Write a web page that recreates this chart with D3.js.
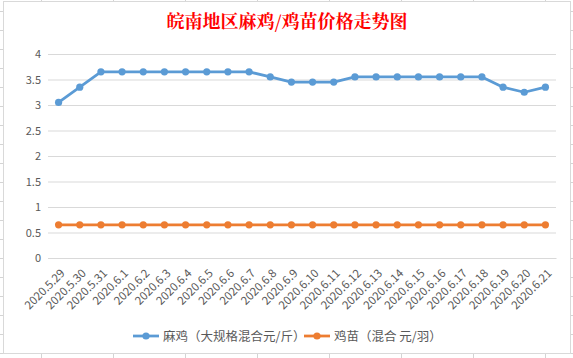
<!DOCTYPE html>
<html>
<head>
<meta charset="utf-8">
<script src="https://cdn.jsdelivr.net/npm/d3@7"></script>
<style>
  body { margin: 0; background: #fff; }
  text { font-family: "Microsoft YaHei", "Noto Sans CJK SC", "DejaVu Sans", sans-serif; }
</style>
</head>
<body>
<div id="chart"></div>
<script>
var dates = ["2020.5.29","2020.5.30","2020.5.31","2020.6.1","2020.6.2","2020.6.3","2020.6.4","2020.6.5",
  "2020.6.6","2020.6.7","2020.6.8","2020.6.9","2020.6.10","2020.6.11","2020.6.12","2020.6.13",
  "2020.6.14","2020.6.15","2020.6.16","2020.6.17","2020.6.18","2020.6.19","2020.6.20","2020.6.21"];
var maji = [3.05,3.35,3.65,3.65,3.65,3.65,3.65,3.65,3.65,3.65,3.55,3.45,3.45,3.45,
  3.55,3.55,3.55,3.55,3.55,3.55,3.55,3.35,3.25,3.35];
var jimiao = [0.65,0.65,0.65,0.65,0.65,0.65,0.65,0.65,0.65,0.65,0.65,0.65,0.65,0.65,
  0.65,0.65,0.65,0.65,0.65,0.65,0.65,0.65,0.65,0.65];
var yTicks = [0,0.5,1,1.5,2,2.5,3,3.5,4];
var seriesNames = ["麻鸡（大规格混合元/斤）", "鸡苗（混合 元/羽）"];
var title = "皖南地区麻鸡/鸡苗价格走势图";

var W = 573, H = 358;
var svg = d3.select("#chart").append("svg")
    .attr("width", W)
    .attr("height", H);

// spreadsheet cells behind the chart
var bg = svg.append("g");
d3.range(41, W, 72).forEach(function(x) {
  bg.append("line").attr("x1", x + 0.5).attr("x2", x + 0.5).attr("y1", 0).attr("y2", H)
    .attr("stroke", "#d4d4d4");
});
d3.range(11, H, 19).forEach(function(y) {
  bg.append("line").attr("x1", 0).attr("x2", W).attr("y1", y + 0.5).attr("y2", y + 0.5)
    .attr("stroke", "#d4d4d4");
});

svg.append("rect")
    .attr("x", 3.5).attr("y", 1.5)
    .attr("width", 567).attr("height", 352)
    .attr("fill", "#fff")
    .attr("stroke", "#d9d9d9");

svg.append("text")
    .attr("x", 287).attr("y", 28)
    .attr("text-anchor", "middle")
    .attr("fill", "#ff0000")
    .style("font-size", "18px")
    .style("font-weight", "bold")
    .style("font-family", "'Noto Serif CJK SC','Noto Sans CJK SC',serif")
    .text(title);

var x = d3.scaleBand().domain(dates).range([48, 556]);
var y = d3.scaleLinear().domain([0, 4]).range([258, 54]);

// gridlines + y labels
var yAxis = d3.axisLeft(y).tickValues(yTicks).tickSize(-(556 - 48)).tickPadding(7)
    .tickFormat(d3.format("~g"));
var gy = svg.append("g").attr("transform", "translate(48,0)").call(yAxis);
gy.select(".domain").remove();
gy.selectAll(".tick line").attr("stroke", "#d9d9d9");
gy.selectAll(".tick text").attr("fill", "#595959").style("font-size", "11px");

// x labels rotated
var xAxis = d3.axisBottom(x).tickSize(0);
var gx = svg.append("g").attr("transform", "translate(0,258)").call(xAxis);
gx.select(".domain").attr("stroke", "#d9d9d9");
gx.selectAll(".tick text")
    .attr("fill", "#595959")
    .style("font-size", "11.5px")
    .attr("text-anchor", "end")
    .attr("dy", null)
    .attr("y", 0)
    .attr("transform", "translate(7,16) rotate(-45)");

var cx = function(d, i) { return x(dates[i]) + x.bandwidth() / 2; };
var series = [
  { name: seriesNames[0], values: maji, color: "#5b9bd5" },
  { name: seriesNames[1], values: jimiao, color: "#ed7d31" }
];

series.forEach(function(s) {
  var line = d3.line().x(cx).y(function(d) { return y(d); });
  svg.append("path")
      .datum(s.values)
      .attr("fill", "none")
      .attr("stroke", s.color)
      .attr("stroke-width", 2.75)
      .attr("stroke-linejoin", "round")
      .attr("d", line);
  svg.append("g").selectAll("circle")
      .data(s.values)
      .enter().append("circle")
      .attr("cx", cx)
      .attr("cy", function(d) { return y(d); })
      .attr("r", 3.6)
      .attr("fill", s.color);
});

// legend
var legendX = [133, 304];
series.forEach(function(s, i) {
  var g = svg.append("g").attr("transform", "translate(" + legendX[i] + ",336)");
  g.append("line").attr("x1", 0).attr("x2", 26).attr("y1", 0).attr("y2", 0)
    .attr("stroke", s.color).attr("stroke-width", 2.75);
  g.append("circle").attr("cx", 13).attr("cy", 0).attr("r", 3.6).attr("fill", s.color);
  g.append("text").attr("x", 30).attr("y", 4.5)
    .attr("fill", "#595959")
    .style("font-size", "12.5px")
    .text(s.name);
});
</script>
</body>
</html>
